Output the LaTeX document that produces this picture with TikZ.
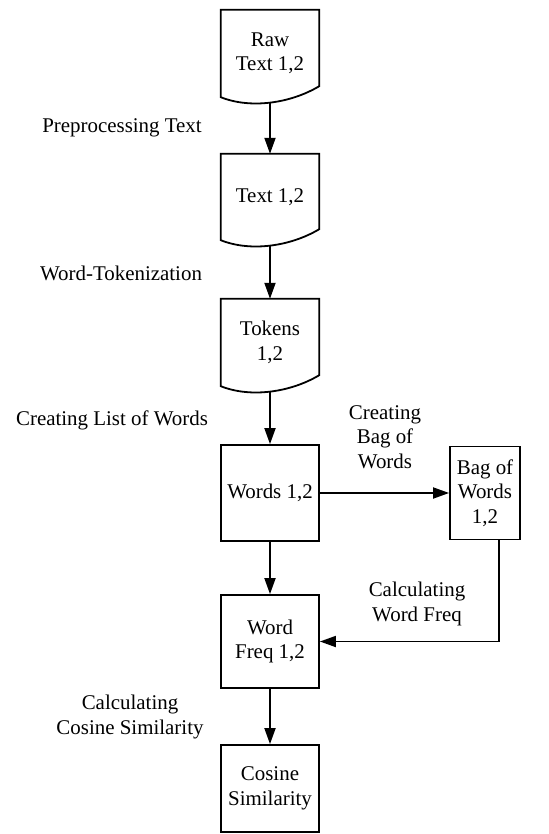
\documentclass[tikz,border=0pt]{standalone}
\usepackage{fontspec}
\setmainfont{Liberation Serif}
\usetikzlibrary{arrows.meta,calc}
\tikzset{
  boxline/.style={line width=1.8bp, line join=miter},
  txt/.style={align=center, font=\fontsize{21}{24.5}\selectfont},
  proc/.style={txt, draw, boxline, minimum width=98bp, inner sep=2bp},
  docnode/.style={txt, draw=none, minimum width=98bp, inner sep=2bp},
  lbl/.style={txt, inner sep=0pt},
  flow/.style={boxline, -{Triangle[length=16bp,width=11bp]}},
}
\newcommand\docoutline[1]{%
  \draw[boxline] (#1.south west) -- (#1.north west) -- (#1.north east)
    -- ([yshift=11bp]#1.south east)
    .. controls ([xshift=70bp,yshift=-6bp]#1.south west) and ([xshift=30bp,yshift=-12bp]#1.south west) ..
    (#1.south west) -- cycle;}
\begin{document}
\begin{tikzpicture}[x=1bp,y=-1bp]
\useasboundingbox (0,0) rectangle (549,834);
% document-shaped nodes
\node[docnode, minimum height=87bp] (raw) at (270,53.5) {Raw\\Text 1,2};
\node[docnode, minimum height=86bp] (text) at (270,197) {Text 1,2};
\node[docnode, minimum height=87bp] (tok) at (270,342.5) {Tokens\\1,2};
\docoutline{raw}
\docoutline{text}
\docoutline{tok}
% process boxes
\node[proc, minimum height=96bp] (words) at (270,493) {Words 1,2};
\node[proc, minimum width=70bp, minimum height=93bp] (bag) at (485,493) {Bag of\\Words\\1,2};
\node[proc, minimum height=93bp] (wf) at (270,641.5) {Word\\Freq 1,2};
\node[proc, minimum height=87bp] (cos) at (270,788.5) {Cosine\\Similarity};
% labels
\node[lbl] (l1) at (122,128) {Preprocessing Text};
\node[lbl] (l2) at (121,273) {Word-Tokenization};
\node[lbl] (l3) at (112,420) {Creating List of Words};
\node[lbl] (l4) at (385,437) {Creating\\Bag of\\Words};
\node[lbl] (l5) at (417,604) {Calculating\\Word Freq};
\node[lbl] (l6) at (130,717) {Calculating\\Cosine Similarity};
% connectors
\draw[flow] ([yshift=-5bp]raw.south) -- (text.north);
\draw[flow] ([yshift=-5bp]text.south) -- (tok.north);
\draw[flow] ([yshift=-5bp]tok.south) -- (words.north);
\draw[flow] (words.east) -- (bag.west);
\draw[flow] (words.south) -- (wf.north);
\draw[flow] ([xshift=14bp]bag.south) |- (wf.east);
\draw[flow] (wf.south) -- (cos.north);
\end{tikzpicture}
\end{document}
